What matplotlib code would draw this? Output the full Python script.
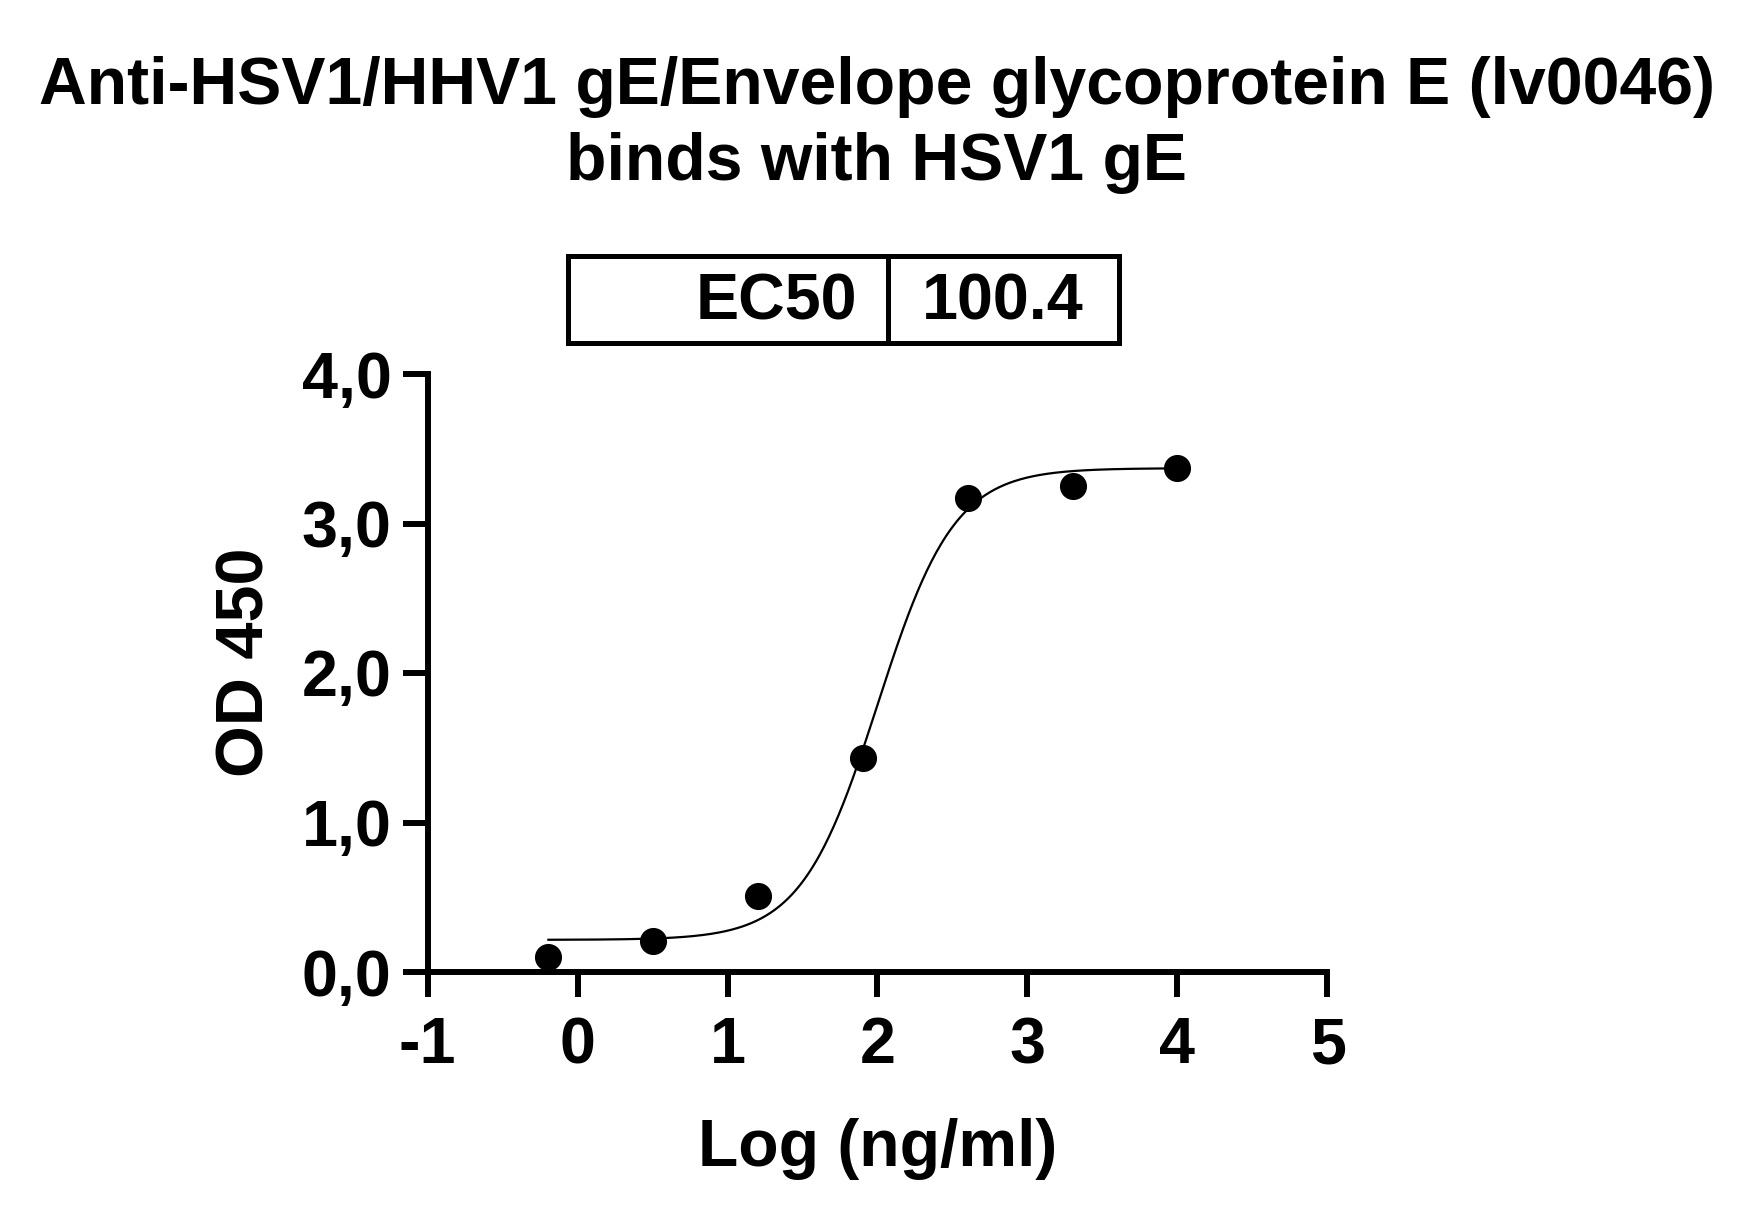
import numpy as np
import matplotlib
matplotlib.use("Agg")
import matplotlib.pyplot as plt
from matplotlib.patches import Rectangle
from matplotlib.lines import Line2D
from matplotlib.ticker import FuncFormatter

# ---- data ----
log_conc = [4.000, 3.301, 2.602, 1.903, 1.204, 0.505, -0.194]
od450 = [3.37, 3.25, 3.17, 1.43, 0.51, 0.21, 0.10]

# 4PL fit parameters
fit_bottom = 0.215
fit_top = 3.37
fit_ec50 = 100.4
fit_hill = 1.7

title_line1 = "Anti-HSV1/HHV1 gE/Envelope glycoprotein E (lv0046)"
title_line2 = "binds with HSV1 gE"
xlabel_text = "Log (ng/ml)"
ylabel_text = "OD 450"
xticks = [-1, 0, 1, 2, 3, 4, 5]
yticks = [0.0, 1.0, 2.0, 3.0, 4.0]
ec50_label = "EC50"
ec50_value = "100.4"

plt.rcParams['font.family'] = ['Liberation Sans', 'DejaVu Sans']
plt.rcParams['font.weight'] = 'bold'

W, H = 1757, 1219
fig = plt.figure(figsize=(W / 100, H / 100), dpi=100)

def fx(px):
    return px / W

def fy(py):
    return 1 - py / H

ax_left, ax_right, ax_top, ax_bottom = 427.5, 1327.5, 374, 972
ax = fig.add_axes([fx(ax_left), fy(ax_bottom), (ax_right - ax_left) / W, (ax_bottom - ax_top) / H])
ax.set_xlim(-1, 5)
ax.set_ylim(0, 4)

xs = np.linspace(min(log_conc), max(log_conc), 400)
ys = fit_bottom + (fit_top - fit_bottom) / (1 + 10 ** (fit_hill * (np.log10(fit_ec50) - xs)))
ax.plot(xs, ys, color='black', lw=1.6, zorder=3, clip_on=False)
ax.plot(log_conc, od450, 'o', color='black', ms=18.5, zorder=4, clip_on=False)

for s in ['top', 'right']:
    ax.spines[s].set_visible(False)
for s in ['left', 'bottom']:
    ax.spines[s].set_linewidth(4.3)
    ax.spines[s].set_capstyle('projecting')

ax.set_xticks(xticks)
ax.set_yticks(yticks)
ax.xaxis.set_major_formatter(FuncFormatter(lambda v, p: f"{int(round(v))}"))
ax.yaxis.set_major_formatter(FuncFormatter(lambda v, p: f"{v:.1f}".replace('.', ',')))
ax.tick_params(axis='both', which='major', direction='out', length=18, width=4.3,
               labelsize=46.5, color='black')
ax.tick_params(axis='x', pad=14)
ax.tick_params(axis='y', pad=8)
for lab in ax.get_xticklabels() + ax.get_yticklabels():
    lab.set_fontweight('bold')

ax.set_xlabel(xlabel_text, fontsize=47.5, fontweight='bold', labelpad=30)
fig.text(fx(246), fy(662), ylabel_text, rotation=90, ha='center', va='center',
         fontsize=48, fontweight='bold')

fig.text(fx(877), fy(104), title_line1, ha='center', va='baseline', fontsize=47.6,
         fontweight='bold')
fig.text(fx(877), fy(180), title_line2, ha='center', va='baseline', fontsize=47.6,
         fontweight='bold')

# EC50 box
bx0, bx1, by0, by1, bdiv = 568, 1119, 256, 343, 888
lw_box = 3.6
fig.patches.append(Rectangle((fx(bx0), fy(by1)), (bx1 - bx0) / W, (by1 - by0) / H,
                             transform=fig.transFigure, fill=False, ec='black', lw=lw_box))
fig.lines.append(Line2D([fx(bdiv), fx(bdiv)], [fy(by0), fy(by1)], transform=fig.transFigure,
                        color='black', lw=lw_box))
fig.text(fx(857), fy(320), ec50_label, ha='right', va='baseline', fontsize=46.5, fontweight='bold')
fig.text(fx(922), fy(320), ec50_value, ha='left', va='baseline', fontsize=46.5, fontweight='bold')

fig.savefig("out.png", dpi=100, facecolor='white')
